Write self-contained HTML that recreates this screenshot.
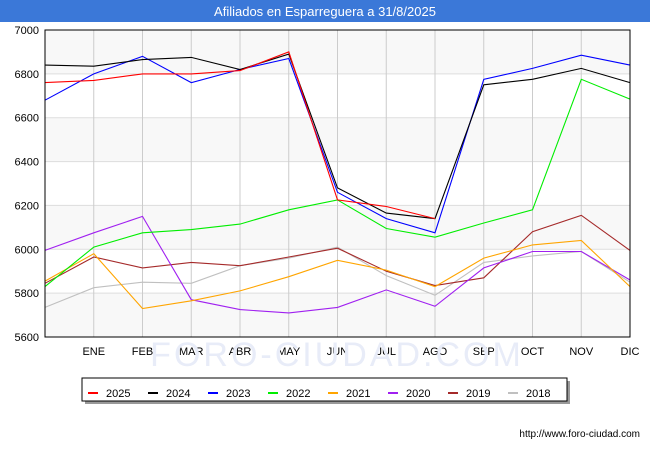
<!DOCTYPE html>
<html><head><meta charset="utf-8"><style>
body{margin:0;width:650px;height:450px;background:#fff;font-family:"Liberation Sans",sans-serif;overflow:hidden}
</style></head><body>
<svg width="650" height="450" xmlns="http://www.w3.org/2000/svg" font-family="Liberation Sans, sans-serif">
<rect x="0" y="0" width="650" height="22" fill="#3b78d8"/>
<text x="325" y="16" text-anchor="middle" fill="#fff" font-size="13">Afiliados en Esparreguera a 31/8/2025</text>
<g id="plot"></g>
<g id="legend"></g>
<text x="640" y="437" text-anchor="end" font-size="10" fill="#000">http://www.foro-ciudad.com</text>
</svg>
<script>
const months=["","ENE","FEB","MAR","ABR","MAY","JUN","JUL","AGO","SEP","OCT","NOV","DIC"];
const yTicks=[5600,5800,6000,6200,6400,6600,6800,7000];
const seriesNames=["2025","2024","2023","2022","2021","2020","2019","2018"];
const seriesColors=["#ff0000","#000000","#0000ff","#00ee00","#ffa500","#a020f0","#a52a2a","#c0c0c0"];
const s2025=[6760,6770,6800,6800,6815,6900,6225,6195,6140];
const s2024=[6840,6835,6865,6875,6820,6890,6280,6165,6140,6750,6775,6825,6760];
const s2023=[6680,6800,6880,6760,6820,6870,6260,6140,6075,6775,6825,6885,6840];
const s2022=[5830,6010,6075,6090,6115,6180,6225,6095,6055,6120,6180,6775,6685];
const s2021=[5855,5980,5730,5765,5810,5875,5950,5905,5830,5960,6020,6040,5830];
const s2020=[5995,6075,6150,5770,5725,5710,5735,5815,5740,5915,5990,5990,5860];
const s2019=[5845,5965,5915,5940,5925,5965,6005,5900,5835,5870,6080,6155,5995];
const s2018=[5735,5825,5850,5845,5925,5960,6010,5880,5790,5940,5970,5990,5850];
const allSeries=[s2025,s2024,s2023,s2022,s2021,s2020,s2019,s2018];
const NS="http://www.w3.org/2000/svg";
const L=45,R=630,T=30,B=337,yMin=5600,yMax=7000;
const xs=i=>L+i*(R-L)/(months.length-1);
const ys=v=>B-(v-yMin)/(yMax-yMin)*(B-T);
const plot=document.getElementById('plot');
function mk(tag,attrs,parent){const e=document.createElementNS(NS,tag);for(const k in attrs)e.setAttribute(k,attrs[k]);(parent||plot).appendChild(e);return e;}
for(let i=0;i<yTicks.length-1;i++){
 if(i%2===0){const r=mk('rect',{x:L,y:ys(yTicks[i+1]),width:R-L,height:ys(yTicks[i])-ys(yTicks[i+1]),fill:'#f8f8f8'});
 
 }
}
yTicks.forEach(v=>{
 const g=mk('line',{x1:L,x2:R,y1:ys(v),y2:ys(v),stroke:'#dddddd'});
 
 
 const t=mk('text',{x:L-6,y:ys(v)+4,'text-anchor':'end','font-size':11,fill:'#000'});t.textContent=v;
 
 
});
months.forEach((m,i)=>{
 if(i>0){const g=mk('line',{x1:xs(i),x2:xs(i),y1:T,y2:B,stroke:'#cccccc'});
 
 }
 const t=mk('text',{x:xs(i),y:B+18,'text-anchor':'middle','font-size':11,fill:'#000'});t.textContent=m;
 
 
});
const wm=mk('text',{x:337,y:366,'text-anchor':'middle','font-size':34,fill:'#e8ecf8','letter-spacing':'3'});wm.textContent='FORO-CIUDAD.COM';


for(let s=allSeries.length-1;s>=0;s--){
 const pts=allSeries[s].map((v,i)=>xs(i).toFixed(1)+','+ys(v).toFixed(1)).join(' ');
 const p=mk('polyline',{points:pts,fill:'none',stroke:seriesColors[s],'stroke-width':1.1});
 
 
}
const fr=mk('rect',{x:L,y:T,width:R-L,height:B-T,fill:'none',stroke:'#000'});


const lg=document.getElementById('legend');
const sh=mk('rect',{x:85,y:381,width:485,height:23,fill:'#999'},lg);


const lb=mk('rect',{x:82,y:378,width:485,height:23,fill:'#fff',stroke:'#000'},lg);


seriesNames.forEach((n,i)=>{
 const x0=88+i*60;
 const g=mk('g',{},lg);
 
 
 mk('line',{x1:x0,x2:x0+10,y1:393,y2:393,stroke:seriesColors[i],'stroke-width':2},g);
 const t=mk('text',{x:x0+18,y:397,'font-size':11,fill:'#000'},g);t.textContent=n;
});
</script>
</body></html>
